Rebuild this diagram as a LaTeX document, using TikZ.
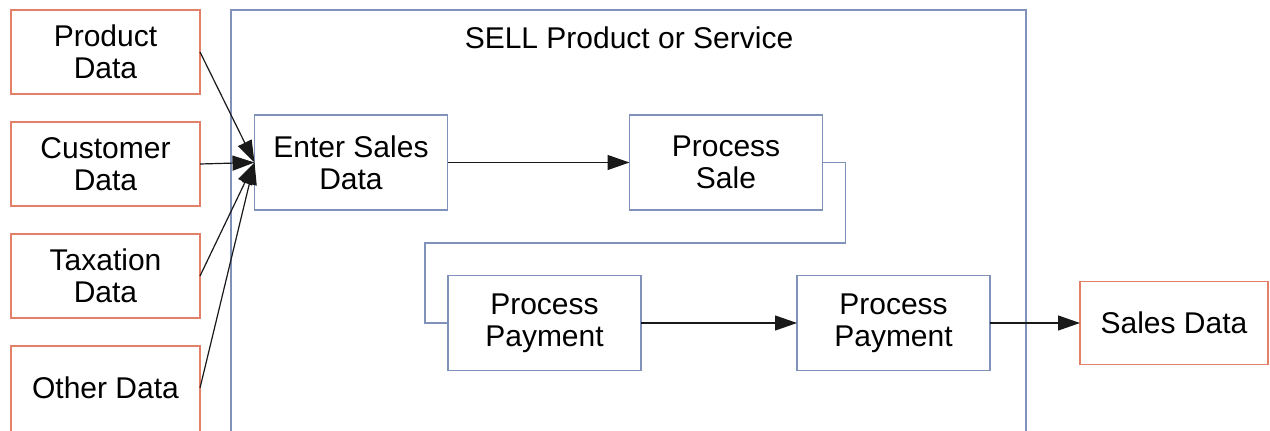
\documentclass[tikz,border=0pt]{standalone}
\usepackage{fontspec}
\setmainfont{Liberation Sans}
\usetikzlibrary{arrows.meta}
\definecolor{srcline}{RGB}{226,128,104}
\definecolor{procline}{RGB}{128,146,186}
\tikzset{
  txt/.style={font=\fontsize{30}{32}\selectfont, align=center, inner sep=0pt, outer sep=0pt},
  srcbox/.style={txt, draw=srcline, line width=1.4pt, minimum width=189pt, minimum height=84pt},
  procbox/.style={txt, draw=procline, line width=1.4pt, minimum width=193pt, minimum height=95pt},
  flow/.style={line width=1.2pt, draw=black!90, -{Triangle[length=22pt,width=15pt]}},
  link/.style={line width=1.3pt, draw=procline},
}
\begin{document}
\begin{tikzpicture}[x=1pt,y=-1pt]
\useasboundingbox (0,0) rectangle (1270,431);
\fill[white] (0,0) rectangle (1270,431);

% enclosing process
\draw[procline, line width=1.4pt] (231,10) rectangle (1026,445);
\node[txt] (title) at (629,38) {SELL Product or Service};

% inputs
\node[srcbox] (prod) at (105.5,52) {Product\\Data};
\node[srcbox] (cust) at (105.5,164) {Customer\\Data};
\node[srcbox] (tax)  at (105.5,276) {Taxation\\Data};
\node[txt, minimum width=189pt, minimum height=84pt] (other) at (105.5,388) {Other Data};
\draw[srcline, line width=1.4pt] (other.north west) rectangle ([yshift=-20pt]other.south east);

% steps
\node[procbox] (enter) at (351,162.5) {Enter Sales\\Data};
\node[procbox] (sale)  at (726,162.5) {Process\\Sale};
\node[procbox] (pay1)  at (544.5,323) {Process\\Payment};
\node[procbox] (pay2)  at (893.5,323) {Process\\Payment};

% output
\node[srcbox, minimum width=188pt, minimum height=83pt] (out) at (1174,323) {Sales Data};

% connectors
\coordinate (tip) at (enter.west);
\draw[flow] (prod.east) -- (tip);
\draw[flow] (cust.east) -- (tip);
\draw[flow] (tax.east) -- (tip);
\draw[flow] (other.east) -- (tip);
\draw[flow] (enter.east) -- (sale.west);
\draw[link] (sale.east) -- ++(23,0) |- (425,243) |- (pay1.west);
\draw[flow] (pay1.east) -- (pay2.west);
\draw[flow] (pay2.east) -- (out.west);
\end{tikzpicture}
\end{document}
